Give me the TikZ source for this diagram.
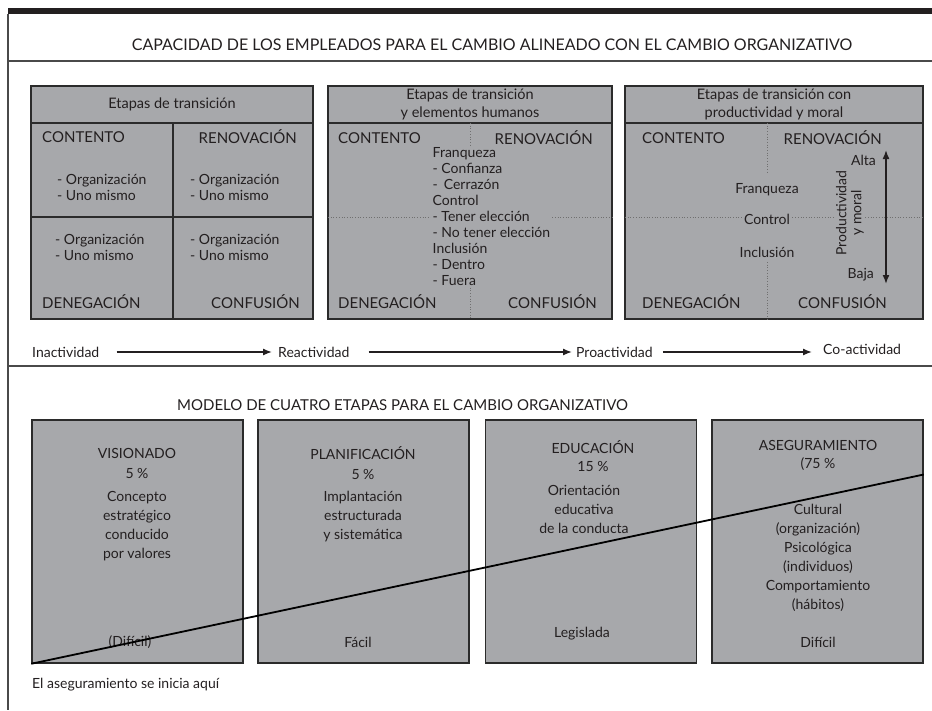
\documentclass[tikz,border=0pt]{standalone}
\usepackage{fontspec}
\setmainfont{Lato}
\usetikzlibrary{calc,arrows.meta,positioning}
\definecolor{dg-fill}{HTML}{A7A8AB}
\definecolor{dg-line}{HTML}{2B2B2B}
\definecolor{dg-text}{HTML}{231F20}
\definecolor{dg-rule}{HTML}{4A4A4A}
\definecolor{dg-dot}{HTML}{707070}

\begin{document}
\begin{tikzpicture}[
    x=1pt, y=-1pt,
    >=latex,
    panel/.style={draw=dg-line, fill=dg-fill, line width=1.5pt, inner sep=0pt, minimum height=233pt},
    stage/.style={draw=dg-line, fill=dg-fill, line width=1.5pt, inner sep=0pt, minimum width=211pt, minimum height=243pt},
    txt/.style={text=dg-text, inner sep=0pt, font=\fontsize{14}{15.9}\selectfont},
    caps/.style={txt, font=\fontsize{15}{16}\selectfont},
    head/.style={txt, align=center, font=\fontsize{14.5}{18}\selectfont},
    lst/.style={txt, align=left, anchor=west},
    stxt/.style={txt, align=center, font=\fontsize{14}{19}\selectfont},
    cut/.style={draw=dg-line, line width=1.5pt},
    grid/.style={draw=dg-dot, dotted, line width=0.7pt},
    hide/.style={fill=dg-fill, inner sep=1.5pt},
    conn/.style={-{Latex[length=9pt,width=7pt]}, draw=dg-text, line width=1.4pt},
    dconn/.style={{Latex[length=9pt,width=7pt]}-{Latex[length=9pt,width=7pt]}, draw=dg-text, line width=1.6pt},
    rule/.style={draw=dg-rule, line width=1.4pt}
]
\useasboundingbox (0,0) rectangle (932,710);

% =========================================================================
% MARCO Y TITULO SUPERIOR
% =========================================================================
\fill[dg-text] (8,8) rectangle (932,14);
\draw[rule] (8,14) -- (8,710);
\draw[rule] (8,61) -- (932,61);
\draw[rule] (8,366) -- (932,366);

\node[caps, font=\fontsize{16}{17}\selectfont] (title) at (492,45)
    {CAPACIDAD DE LOS EMPLEADOS PARA EL CAMBIO ALINEADO CON EL CAMBIO ORGANIZATIVO};

% =========================================================================
% PANEL 1: ETAPAS DE TRANSICION
% =========================================================================
\node[panel, minimum width=282pt] (p1) at (172,202.5) {};
\draw[cut] (31,123) -- (313,123);
\draw[cut] (173,123) -- (173,319);
\draw[cut] (31,217) -- (313,217);
\node[head] (h1) at (172,104) {Etapas de transición};

\node[caps, anchor=west] (c1) at (42,137) {CONTENTO};
\node[caps, anchor=east] (r1) at (297,137) {RENOVACIÓN};
\node[caps, anchor=west] (d1) at (42,302) {DENEGACIÓN};
\node[caps, anchor=east] (f1) at (300,302) {CONFUSIÓN};

\node[lst] (l1a) at (57,187) {- Organización\\- Uno mismo};
\node[lst] (l1b) at (190,187) {- Organización\\- Uno mismo};
\node[lst] (l1c) at (55,247.5) {- Organización\\- Uno mismo};
\node[lst] (l1d) at (190,247.5) {- Organización\\- Uno mismo};

% =========================================================================
% PANEL 2: ELEMENTOS HUMANOS
% =========================================================================
\node[panel, minimum width=284pt] (p2) at (470,202.5) {};
\draw[cut] (328,123) -- (612,123);
\draw[grid] (470,123) -- (470,319);
\draw[grid] (328,217) -- (612,217);
\node[head] (h2) at (470,104) {Etapas de transición\\y elementos humanos};

\node[caps, anchor=west] (c2) at (338,138) {CONTENTO};
\node[caps, anchor=east] (r2) at (593,138) {RENOVACIÓN};
\node[caps, anchor=west] (d2) at (338,302) {DENEGACIÓN};
\node[caps, anchor=east] (f2) at (597,302) {CONFUSIÓN};

\node[lst, hide] (l2) at (431,216.5)
    {Franqueza\\- Confianza\\- \,Cerrazón\\Control\\- Tener elección\\- No tener elección\\Inclusión\\- Dentro\\- Fuera};

% =========================================================================
% PANEL 3: PRODUCTIVIDAD Y MORAL
% =========================================================================
\node[panel, minimum width=298pt] (p3) at (774,202.5) {};
\draw[cut] (625,123) -- (923,123);
\draw[grid] (767,123) -- (767,172);
\draw[grid] (767,262) -- (767,319);
\draw[grid] (625,217) -- (923,217);
\node[head] (h3) at (774,104) {Etapas de transición con\\productividad y moral};

\node[caps, anchor=west] (c3) at (642,138) {CONTENTO};
\node[caps, anchor=east] (r3) at (882,138) {RENOVACIÓN};
\node[caps, anchor=west] (d3) at (642,302) {DENEGACIÓN};
\node[caps, anchor=east] (f3) at (887,302) {CONFUSIÓN};

\node[txt] (franq) at (767,190) {Franqueza};
\node[txt, hide] (ctrl) at (767,219) {Control};
\node[txt] (incl) at (767,252) {Inclusión};

\node[txt, hide, align=center, rotate=90, font=\fontsize{14}{15}\selectfont] (prodmoral) at (850,213)
    {Productividad\\y moral};
\node[txt, anchor=east] (alta) at (876,160) {Alta};
\node[txt, anchor=east] (baja) at (874,275) {Baja};
\coordinate (pm_top) at (886,150);
\coordinate (pm_bot) at (886,284);
\draw[dconn] (pm_bot) -- (pm_top);

% =========================================================================
% ESCALA DE ACTIVIDAD
% =========================================================================
\node[txt, anchor=west] (inact) at (32,352) {Inactividad};
\node[txt, anchor=west] (react) at (278,352) {Reactividad};
\node[txt, anchor=west] (proact) at (576,352) {Proactividad};
\node[txt, anchor=west] (coact) at (823,349) {Co-actividad};

\draw[conn, shorten <=17pt, shorten >=6pt] (inact.east) -- (react.west);
\draw[conn, shorten <=19pt, shorten >=4pt] (react.east) -- (proact.west);
\draw[conn, shorten <=10pt, shorten >=11pt] (proact.east) -- (proact.east -| coact.west);

% =========================================================================
% MODELO DE CUATRO ETAPAS
% =========================================================================
\node[caps, anchor=west] (title2) at (177,405)
    {MODELO DE CUATRO ETAPAS PARA EL CAMBIO ORGANIZATIVO};

\node[stage] (b1) at (137.5,541.5) {};
\node[stage] (b2) at (363.5,541.5) {};
\node[stage] (b3) at (591,541.5) {};
\node[stage] (b4) at (817.5,541.5) {};

\node[stxt, font=\fontsize{14}{20}\selectfont] (n1) at (137,463) {VISIONADO\\5 \%};
\node[stxt] (t1) at (137,526.5) {Concepto\\estratégico\\conducido\\por valores};
\node[stxt] (e1) at (130,642) {(Difícil)};

\node[stxt, font=\fontsize{14}{20}\selectfont] (n2) at (363,463) {PLANIFICACIÓN\\5 \%};
\node[stxt] (t2) at (363,517) {Implantación\\estructurada\\y sistemática};
\node[stxt] (e2) at (358,642) {Fácil};

\node[stxt, font=\fontsize{14}{18}\selectfont] (n3) at (593,456) {EDUCACIÓN\\15 \%};
\node[stxt] (t3) at (584,509) {Orientación\\educativa\\de la conducta};
\node[stxt] (e3) at (582,634) {Legislada};

\node[stxt, font=\fontsize{14}{18}\selectfont] (n4) at (818,455) {ASEGURAMIENTO\\(75 \%};
\node[stxt] (t4) at (818,557.5)
    {Cultural\\(organización)\\Psicológica\\(individuos)\\Comportamiento\\(hábitos)};
\node[stxt] (e4) at (818,642) {Difícil};

% linea de aseguramiento
\draw[draw=black, line width=1.8pt] (b1.south west) -- ($(b4.north east)!0.226!(b4.south east)$);

\node[txt, anchor=west] (start) at (32,685) {El aseguramiento se inicia aquí};

\end{tikzpicture}
\end{document}
